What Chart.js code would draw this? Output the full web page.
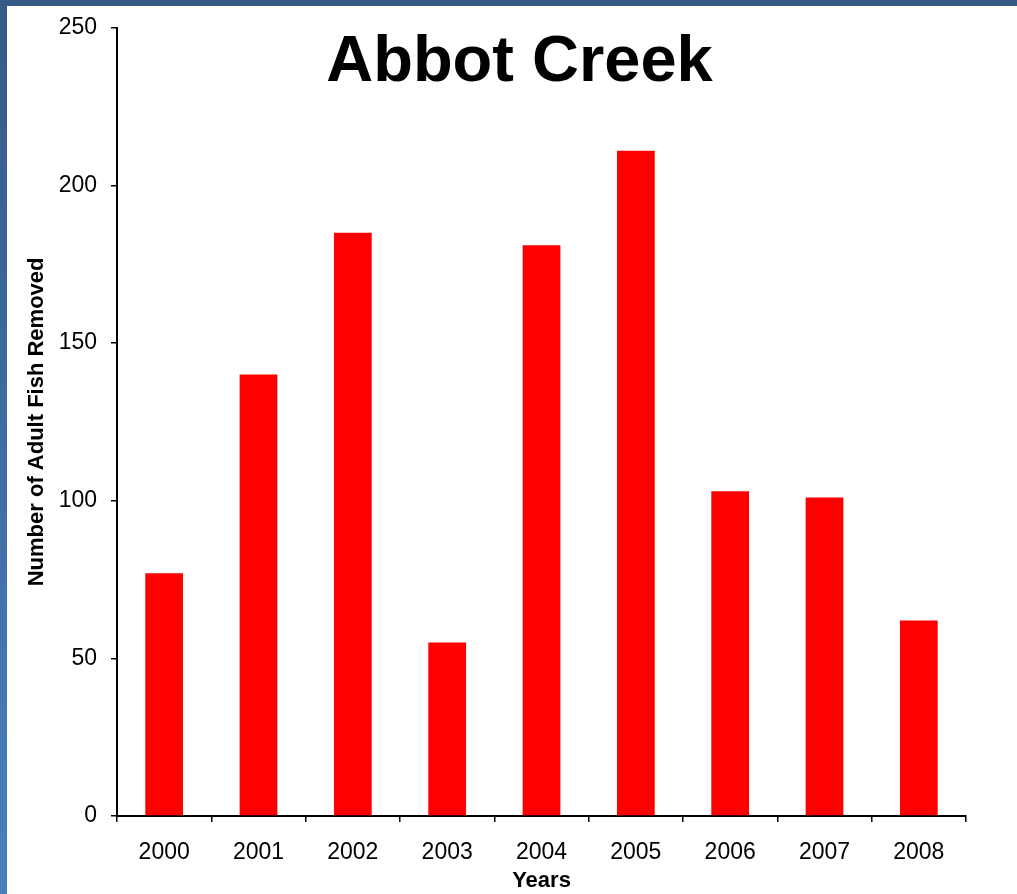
<!DOCTYPE html>
<html>
<head>
<meta charset="utf-8">
<script src="https://cdn.jsdelivr.net/npm/chart.js@4.4.1/dist/chart.umd.min.js"></script>
<style>
  html, body { margin: 0; padding: 0; background: #fff; }
  #wrap { position: relative; width: 1017px; height: 894px; overflow: hidden; }
  #wrap canvas { position: absolute; left: 0; top: 0; }
  .topbar { position: absolute; left: 0; top: 0; width: 1017px; height: 6px; background: #365a85; }
  .leftbar { position: absolute; left: 0; top: 0; width: 7px; height: 894px;
             background: linear-gradient(#365a85, #4a7fbe); }
  .title { position: absolute; left: 0; top: 26px; width: 1039px; text-align: center;
           font: bold 65px "Liberation Sans", Arial, sans-serif; line-height: 65px; color: #000; }
</style>
</head>
<body>
<div id="wrap">
  <canvas id="chartCanvas" width="1017" height="894"></canvas>
  <div class="topbar"></div>
  <div class="leftbar"></div>
  <div class="title">Abbot Creek</div>
</div>
<script>
const years = ['2000', '2001', '2002', '2003', '2004', '2005', '2006', '2007', '2008'];
const fishRemoved = [77, 140, 185, 55, 181, 211, 103, 101, 62];
const yTicks = [0, 50, 100, 150, 200, 250];

const font = "'Liberation Sans', Arial, sans-serif";

new Chart(document.getElementById('chartCanvas').getContext('2d'), {
    type: 'bar',
    data: {
        labels: years,
        datasets: [{
            label: 'Number of Adult Fish Removed',
            data: fishRemoved,
            backgroundColor: '#ff0000',
            borderWidth: 0,
            categoryPercentage: 1,
            barPercentage: 0.4
        }]
    },
    options: {
        responsive: false,
        animation: false,
        layout: { padding: { top: 23, right: 51, left: 0, bottom: 0 } },
        plugins: {
            legend: { display: false },
            tooltip: { enabled: false }
        },
        scales: {
            x: {
                afterFit: (scale) => { scale.height = 78; },
                grid: { drawOnChartArea: false, drawTicks: true, tickLength: 6, color: '#000', lineWidth: 1.5 },
                border: { display: true, color: '#000', width: 2 },
                ticks: { color: '#000', padding: 17, font: { family: font, size: 23 } },
                title: {
                    display: true, text: 'Years', color: '#000',
                    font: { family: font, size: 22, weight: 'bold' },
                    padding: { top: 0, bottom: 0 }
                }
            },
            y: {
                min: 0,
                max: 250,
                afterFit: (scale) => { scale.width = 117; },
                afterBuildTicks: (scale) => { scale.ticks = yTicks.map(v => ({ value: v })); },
                grid: { drawOnChartArea: false, drawTicks: true, tickLength: 6, color: '#000', lineWidth: 1.5 },
                border: { display: true, color: '#000', width: 2 },
                ticks: { color: '#000', padding: 14, font: { family: font, size: 23 } },
                title: {
                    display: true, text: 'Number of Adult Fish Removed', color: '#000',
                    font: { family: font, size: 22, weight: 'bold' },
                    padding: { top: 24, bottom: 0 }
                }
            }
        }
    }
});
</script>
</body>
</html>
